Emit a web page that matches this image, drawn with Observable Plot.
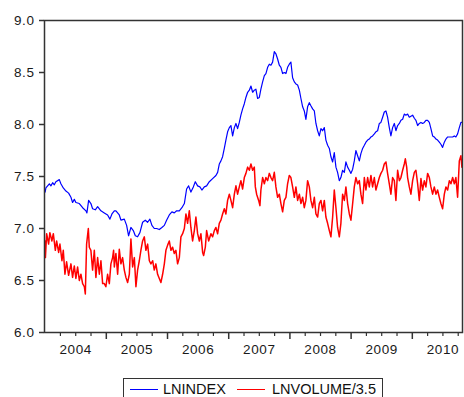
<!DOCTYPE html>
<html><head><meta charset="utf-8">
<script src="https://cdn.jsdelivr.net/npm/d3@7"></script>
<script src="https://cdn.jsdelivr.net/npm/@observablehq/plot@0.6"></script>
<style>
body{margin:0;background:#fff;font-family:"Liberation Sans",Arial,sans-serif;}
#wrap{position:relative;width:464px;height:397px;overflow:hidden;background:#fff;}
#chart svg text{letter-spacing:0.6px;}
#legend{position:absolute;left:123px;top:378px;width:260px;height:26px;border:1px solid #333;box-sizing:border-box;}
.item{position:absolute;top:2px;font-size:14.5px;color:#111;line-height:16px;white-space:nowrap;}
.sw{position:absolute;top:10px;width:28px;height:0;border-top:1px solid;}
</style></head>
<body><div id="wrap"><div id="chart"></div><div id="legend"></div></div>
<script>
// LNINDEX (blue) — decimal years and values
const indexYears = [
2004.000,2004.013,2004.069,2004.095,2004.123,2004.150,2004.176,2004.232,2004.258,2004.297,
2004.340,2004.384,2004.422,2004.449,2004.477,2004.503,2004.559,2004.613,2004.667,2004.683,
2004.711,2004.748,2004.776,2004.820,2004.858,2004.912,2004.967,2005.021,2005.059,2005.092,
2005.131,2005.157,2005.212,2005.239,2005.294,2005.332,2005.364,2005.402,2005.441,2005.474,
2005.511,2005.549,2005.593,2005.637,2005.675,2005.712,2005.745,2005.784,2005.822,2005.866,
2005.908,2005.948,2005.985,2006.029,2006.072,2006.111,2006.149,2006.193,2006.235,2006.275,
2006.312,2006.345,2006.382,2006.422,2006.454,2006.492,2006.529,2006.562,2006.601,2006.639,
2006.683,2006.737,2006.791,2006.819,2006.846,2006.873,2006.900,2006.928,2006.954,2006.982,
2007.010,2007.036,2007.064,2007.092,2007.118,2007.145,2007.173,2007.199,2007.227,2007.255,
2007.281,2007.309,2007.337,2007.363,2007.391,2007.418,2007.444,2007.472,2007.500,2007.526,
2007.554,2007.582,2007.608,2007.636,2007.663,2007.690,2007.717,2007.745,2007.771,2007.799,
2007.827,2007.853,2007.881,2007.908,2007.935,2007.962,2007.990,2008.016,2008.044,2008.072,
2008.098,2008.126,2008.154,2008.180,2008.208,2008.235,2008.261,2008.289,2008.317,2008.343,
2008.371,2008.399,2008.425,2008.453,2008.480,2008.507,2008.534,2008.562,2008.588,2008.616,
2008.644,2008.670,2008.698,2008.725,2008.752,2008.779,2008.807,2008.833,2008.861,2008.889,
2008.915,2008.943,2008.971,2008.997,2009.025,2009.052,2009.078,2009.106,2009.134,2009.160,
2009.188,2009.216,2009.242,2009.270,2009.297,2009.324,2009.351,2009.379,2009.405,2009.433,
2009.461,2009.487,2009.515,2009.542,2009.569,2009.596,2009.624,2009.650,2009.678,2009.706,
2009.732,2009.760,2009.788,2009.814,2009.842,2009.869,2009.895,2009.923,2009.951,2009.977,
2010.005,2010.033,2010.059,2010.087,2010.114,2010.141,2010.168,2010.196,2010.222,2010.250,
2010.278,2010.304,2010.332,2010.359,2010.386,2010.413,2010.441,2010.467,2010.495,2010.523,
2010.549,2010.577,2010.605,2010.631,2010.659,2010.686,2010.712,2010.740,2010.768,2010.794,
2010.810];
const indexValues = [
7.35,7.39,7.43,7.41,7.44,7.42,7.45,7.47,7.43,7.39,
7.36,7.34,7.30,7.25,7.28,7.25,7.24,7.20,7.17,7.15,
7.27,7.24,7.19,7.18,7.21,7.17,7.15,7.13,7.09,7.14,
7.17,7.17,7.13,7.08,7.09,7.03,6.93,7.01,6.98,6.93,
6.92,6.96,7.06,7.08,7.06,7.09,7.03,7.00,7.00,6.99,
7.01,7.03,7.08,7.13,7.16,7.15,7.17,7.17,7.20,7.24,
7.38,7.41,7.35,7.40,7.45,7.41,7.40,7.37,7.40,7.41,
7.45,7.48,7.51,7.54,7.62,7.65,7.69,7.77,7.85,7.93,
7.97,7.99,7.89,7.97,8.01,7.96,8.02,8.09,8.15,8.20,
8.26,8.31,8.33,8.37,8.31,8.33,8.34,8.25,8.26,8.34,
8.41,8.47,8.49,8.55,8.58,8.57,8.60,8.70,8.68,8.63,
8.57,8.55,8.49,8.50,8.49,8.55,8.58,8.60,8.45,8.41,
8.39,8.38,8.33,8.25,8.17,8.13,8.05,8.17,8.21,8.18,
8.15,8.13,8.01,7.94,7.89,7.96,7.94,7.97,7.85,7.80,
7.77,7.69,7.64,7.73,7.59,7.54,7.46,7.49,7.56,7.54,
7.64,7.59,7.56,7.53,7.57,7.65,7.75,7.70,7.65,7.72,
7.77,7.80,7.83,7.85,7.86,7.88,7.89,7.91,7.93,7.94,
8.01,8.02,8.07,8.12,8.13,8.07,7.97,7.89,7.97,8.01,
7.94,7.99,8.01,8.04,8.05,8.10,8.09,8.10,8.07,8.08,
8.09,8.06,8.04,7.99,8.01,8.02,8.01,8.02,8.04,8.04,
8.02,7.96,7.89,7.88,7.86,7.85,7.83,7.81,7.78,7.83,
7.86,7.88,7.88,7.88,7.88,7.89,7.88,7.91,7.97,8.02,
8.02];

// LNVOLUME/3.5 (red)
const volumeYears = [
2004.000,2004.005,2004.025,2004.057,2004.078,2004.111,2004.134,2004.167,2004.188,2004.221,
2004.242,2004.275,2004.297,2004.324,2004.351,2004.384,2004.422,2004.449,2004.477,2004.503,
2004.531,2004.559,2004.585,2004.613,2004.641,2004.657,2004.678,2004.706,2004.722,2004.748,
2004.776,2004.804,2004.830,2004.858,2004.886,2004.912,2004.940,2004.967,2004.993,2005.021,
2005.049,2005.075,2005.103,2005.119,2005.131,2005.157,2005.185,2005.212,2005.239,2005.266,
2005.294,2005.320,2005.348,2005.376,2005.402,2005.430,2005.458,2005.484,2005.511,2005.539,
2005.565,2005.593,2005.621,2005.647,2005.675,2005.703,2005.729,2005.757,2005.784,2005.810,
2005.838,2005.866,2005.892,2005.920,2005.948,2005.974,2006.002,2006.029,2006.056,2006.083,
2006.111,2006.137,2006.165,2006.193,2006.219,2006.247,2006.275,2006.301,2006.328,2006.356,
2006.382,2006.410,2006.438,2006.464,2006.492,2006.520,2006.546,2006.574,2006.590,2006.618,
2006.639,2006.672,2006.709,2006.737,2006.765,2006.791,2006.819,2006.846,2006.873,2006.900,
2006.928,2006.954,2006.982,2007.010,2007.036,2007.064,2007.092,2007.118,2007.145,2007.173,
2007.199,2007.227,2007.255,2007.281,2007.309,2007.337,2007.363,2007.391,2007.418,2007.435,
2007.456,2007.489,2007.510,2007.526,2007.554,2007.582,2007.608,2007.636,2007.663,2007.690,
2007.717,2007.745,2007.771,2007.799,2007.827,2007.853,2007.881,2007.908,2007.935,2007.962,
2007.990,2008.016,2008.044,2008.072,2008.098,2008.126,2008.154,2008.180,2008.208,2008.235,
2008.261,2008.289,2008.317,2008.343,2008.371,2008.399,2008.425,2008.453,2008.480,2008.507,
2008.534,2008.562,2008.588,2008.616,2008.644,2008.670,2008.698,2008.725,2008.752,2008.779,
2008.807,2008.833,2008.861,2008.889,2008.915,2008.943,2008.971,2008.997,2009.025,2009.052,
2009.078,2009.106,2009.134,2009.160,2009.188,2009.216,2009.242,2009.270,2009.297,2009.324,
2009.351,2009.379,2009.405,2009.433,2009.461,2009.487,2009.515,2009.542,2009.569,2009.596,
2009.624,2009.650,2009.678,2009.706,2009.732,2009.760,2009.788,2009.814,2009.842,2009.869,
2009.886,2009.908,2009.923,2009.951,2009.977,2010.005,2010.033,2010.059,2010.087,2010.114,
2010.141,2010.168,2010.196,2010.222,2010.250,2010.278,2010.304,2010.332,2010.359,2010.386,
2010.413,2010.441,2010.467,2010.495,2010.523,2010.549,2010.577,2010.605,2010.631,2010.659,
2010.686,2010.712,2010.740,2010.768,2010.794,2010.810];
const volumeValues = [
6.88,6.72,6.95,6.85,6.96,6.88,6.95,6.79,6.88,6.77,
6.85,6.69,6.79,6.56,6.68,6.55,6.66,6.53,6.64,6.52,
6.63,6.50,6.56,6.47,6.44,6.37,6.85,7.00,6.82,6.79,
6.60,6.79,6.53,6.72,6.56,6.69,6.47,6.47,6.44,6.56,
6.47,6.66,6.72,6.79,6.63,6.76,6.56,6.80,6.66,6.72,
6.60,6.53,6.48,6.56,6.90,6.63,6.72,6.44,6.60,6.69,
6.79,6.88,6.92,6.79,6.85,6.69,6.66,6.69,6.60,6.66,
6.56,6.52,6.48,6.56,6.66,6.79,6.84,6.88,6.79,6.82,
6.76,6.79,6.66,6.72,6.92,6.95,7.00,7.14,7.05,7.17,
7.01,6.88,6.98,7.11,6.95,6.88,6.95,6.77,6.74,6.82,
6.98,6.88,6.95,6.92,6.98,7.01,6.95,7.05,7.08,7.14,
7.19,7.14,7.27,7.33,7.27,7.20,7.33,7.41,7.33,7.40,
7.46,7.38,7.49,7.53,7.59,7.56,7.62,7.56,7.59,7.40,
7.33,7.27,7.22,7.37,7.49,7.43,7.49,7.46,7.53,7.49,
7.46,7.54,7.40,7.30,7.33,7.24,7.16,7.27,7.30,7.43,
7.51,7.49,7.40,7.30,7.40,7.27,7.33,7.24,7.30,7.20,
7.27,7.46,7.40,7.27,7.20,7.30,7.14,7.11,7.24,7.27,
7.17,7.27,7.11,7.05,6.98,6.92,7.11,7.37,7.20,7.01,
6.92,7.05,7.33,7.27,7.40,7.24,7.14,7.08,7.24,7.40,
7.49,7.43,7.46,7.33,7.24,7.49,7.37,7.49,7.40,7.51,
7.40,7.49,7.37,7.43,7.49,7.53,7.56,7.62,7.64,7.53,
7.43,7.33,7.49,7.46,7.27,7.56,7.46,7.49,7.56,7.62,
7.67,7.59,7.49,7.40,7.33,7.46,7.54,7.56,7.43,7.27,
7.48,7.37,7.46,7.40,7.53,7.49,7.40,7.33,7.40,7.33,
7.37,7.30,7.24,7.19,7.33,7.40,7.37,7.46,7.43,7.49,
7.43,7.49,7.30,7.65,7.70,7.59];

const seriesNames = ["LNINDEX", "LNVOLUME/3.5"];
const seriesColors = ["#0000ff", "#ff0000"];
const yTicks = [6.0, 6.5, 7.0, 7.5, 8.0, 8.5, 9.0];
const yearLabels = [2004, 2005, 2006, 2007, 2008, 2009, 2010];

const zip = (xs, vs) => xs.slice(0, Math.min(xs.length, vs.length)).map((t, i) => ({t, v: vs[i]}));
const indexRows = zip(indexYears, indexValues);
const volumeRows = zip(volumeYears, volumeValues);

const yearTicks = yearLabels.slice(1);
const quarterTicks = yearLabels.flatMap(y => [y + 0.25, y + 0.5, y + 0.75]);
const labelTicks = yearLabels.map(y => y + 0.5);

const chart = Plot.plot({
  width: 464, height: 366,
  marginLeft: 44, marginRight: 2, marginTop: 20, marginBottom: 34,
  style: {fontFamily: '"Liberation Sans", Arial, sans-serif', fontSize: "13.5px", color: "#1a1a1a", background: "#fff"},
  x: {domain: [2003.99, 2010.82]},
  y: {domain: [6, 9]},
  marks: [
    Plot.line(indexRows, {x: "t", y: "v", stroke: seriesColors[0], strokeWidth: 1.2}),
    Plot.line(volumeRows, {x: "t", y: "v", stroke: seriesColors[1], strokeWidth: 1.5}),
    Plot.frame({stroke: "#333", strokeWidth: 1.5}),
    Plot.axisY({ticks: yTicks, tickFormat: d3.format(".1f"), tickSize: 5, tickPadding: 5, stroke: "#333", strokeWidth: 1.5, label: null}),
    Plot.axisX({ticks: yearTicks, tickSize: 7, tickFormat: () => "", stroke: "#333", strokeWidth: 1.5, label: null}),
    Plot.axisX({ticks: quarterTicks, tickSize: 4, tickFormat: () => "", stroke: "#333", strokeWidth: 1.2, label: null}),
    Plot.axisX({ticks: labelTicks, tickSize: 0, tickPadding: 12, tickFormat: d => String(Math.floor(d)), label: null})
  ]
});
document.getElementById("chart").appendChild(chart);

const legend = document.getElementById("legend");
const swLeft = [6, 113], txtLeft = [39, 148];
seriesNames.forEach((name, i) => {
  const sw = document.createElement("div");
  sw.className = "sw";
  sw.style.left = swLeft[i] + "px";
  sw.style.borderTopColor = seriesColors[i];
  legend.appendChild(sw);
  const tx = document.createElement("div");
  tx.className = "item";
  tx.style.left = txtLeft[i] + "px";
  tx.textContent = name;
  legend.appendChild(tx);
});
</script>
</body></html>
